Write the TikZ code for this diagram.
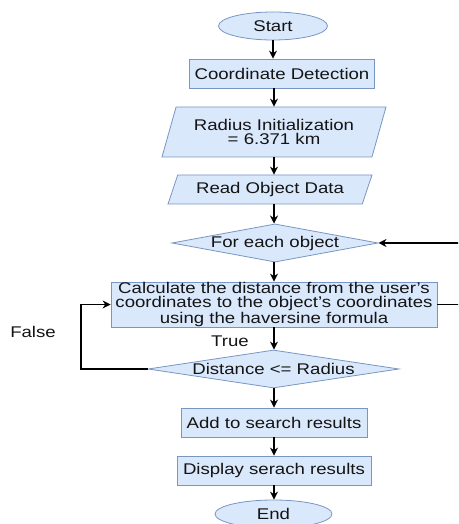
\documentclass[tikz,border=0pt]{standalone}
\usepackage{fontspec}
\setmainfont{Liberation Sans}[FakeStretch=1.2]
\usetikzlibrary{shapes.geometric,arrows.meta}

\definecolor{boxFill}{RGB}{218,232,252}
\definecolor{boxLine}{RGB}{120,150,195}
\definecolor{textGray}{RGB}{20,20,20}

\begin{document}
\begin{tikzpicture}[x=1pt, y=1pt,
    every node/.style={font=\fontsize{15.5}{14}\selectfont, text=textGray, align=center},
    startStop/.style={ellipse, draw=boxLine, fill=boxFill, line width=0.8pt, inner sep=0pt},
    processBox/.style={rectangle, draw=boxLine, fill=boxFill, line width=0.8pt, inner sep=0pt},
    ioBox/.style={trapezium, trapezium stretches body, draw=boxLine, fill=boxFill, line width=0.8pt, inner sep=0pt},
    decisionBox/.style={diamond, draw=boxLine, fill=boxFill, line width=0.8pt, inner sep=0pt},
    arrowLine/.style={-{Stealth[length=8pt, width=8pt]}, line width=1.1pt, black}]

    % Page
    \useasboundingbox (0, 0) rectangle (458, 524);
    \clip (0, 0) rectangle (458, 524);

    % variables
    \def\midX{274}
    \def\falseX{81}
    \def\loopX{462}

    % Shapes
    \node[startStop, minimum width=109, minimum height=28] (start) at (273, 498) {Start};
    \node[processBox, minimum width=185, minimum height=29] (detect) at (282, 450.5) {Coordinate Detection};
    \node[ioBox, trapezium left angle=61, trapezium right angle=119, minimum width=224, minimum height=50] (radius) at (\midX, 392) {Radius Initialization\\= 6.371 km};
    \node[ioBox, trapezium left angle=56, trapezium right angle=124, minimum width=204, minimum height=29] (readData) at (270, 334.5) {Read Object Data};
    \node[decisionBox, aspect=5.4, minimum width=204, minimum height=38] (eachObj) at (275, 281) {For each object};
    \node[processBox, minimum width=326, minimum height=45] (calcDist) at (\midX, 219.5) {Calculate the distance from the user's\\coordinates to the object's coordinates\\using the haversine formula};
    \node[decisionBox, aspect=6.6, minimum width=251, minimum height=38] (checkDist) at (273.5, 155) {Distance <= Radius};
    \node[processBox, minimum width=186, minimum height=29] (addResult) at (\midX, 101.5) {Add to search results};
    \node[processBox, minimum width=194, minimum height=29] (showResult) at (\midX, 53.5) {Display serach results};
    \node[startStop, minimum width=117, minimum height=28] (end) at (273.5, 10) {End};

    % Labels
    \node (trueLbl) at (230, 183) {True};
    \node (falseLbl) at (33, 192) {False};

    % Arrows
    \draw[arrowLine] (start.south) -- (start.south |- detect.north);
    \draw[arrowLine] (\midX, 0 |- detect.south) -- (\midX, 0 |- radius.north);
    \draw[arrowLine] (radius.south) -- (radius.south |- readData.north);
    \draw[arrowLine] (\midX, 0 |- readData.south) -- (\midX, 0 |- eachObj.north);
    \draw[arrowLine] (\midX, 0 |- eachObj.south) -- (\midX, 0 |- calcDist.north);
    \draw[arrowLine] (calcDist.south) -- (calcDist.south |- checkDist.north);
    \draw[arrowLine] (\midX, 0 |- checkDist.south) -- (addResult.north);
    \draw[arrowLine] (addResult.south) -- (showResult.north);
    \draw[arrowLine] (showResult.south) -- (\midX, 0 |- end.north);

    % False loop
    \draw[arrowLine] (checkDist.west) -- (\falseX, 0 |- checkDist.west) -- (\falseX, 0 |- calcDist.west) -- (calcDist.west);

    % Loop back to each object
    \draw[arrowLine] (calcDist.east) -- (\loopX, 0 |- calcDist.east) -- (\loopX, 0 |- eachObj.east) -- (eachObj.east);
\end{tikzpicture}
\end{document}
